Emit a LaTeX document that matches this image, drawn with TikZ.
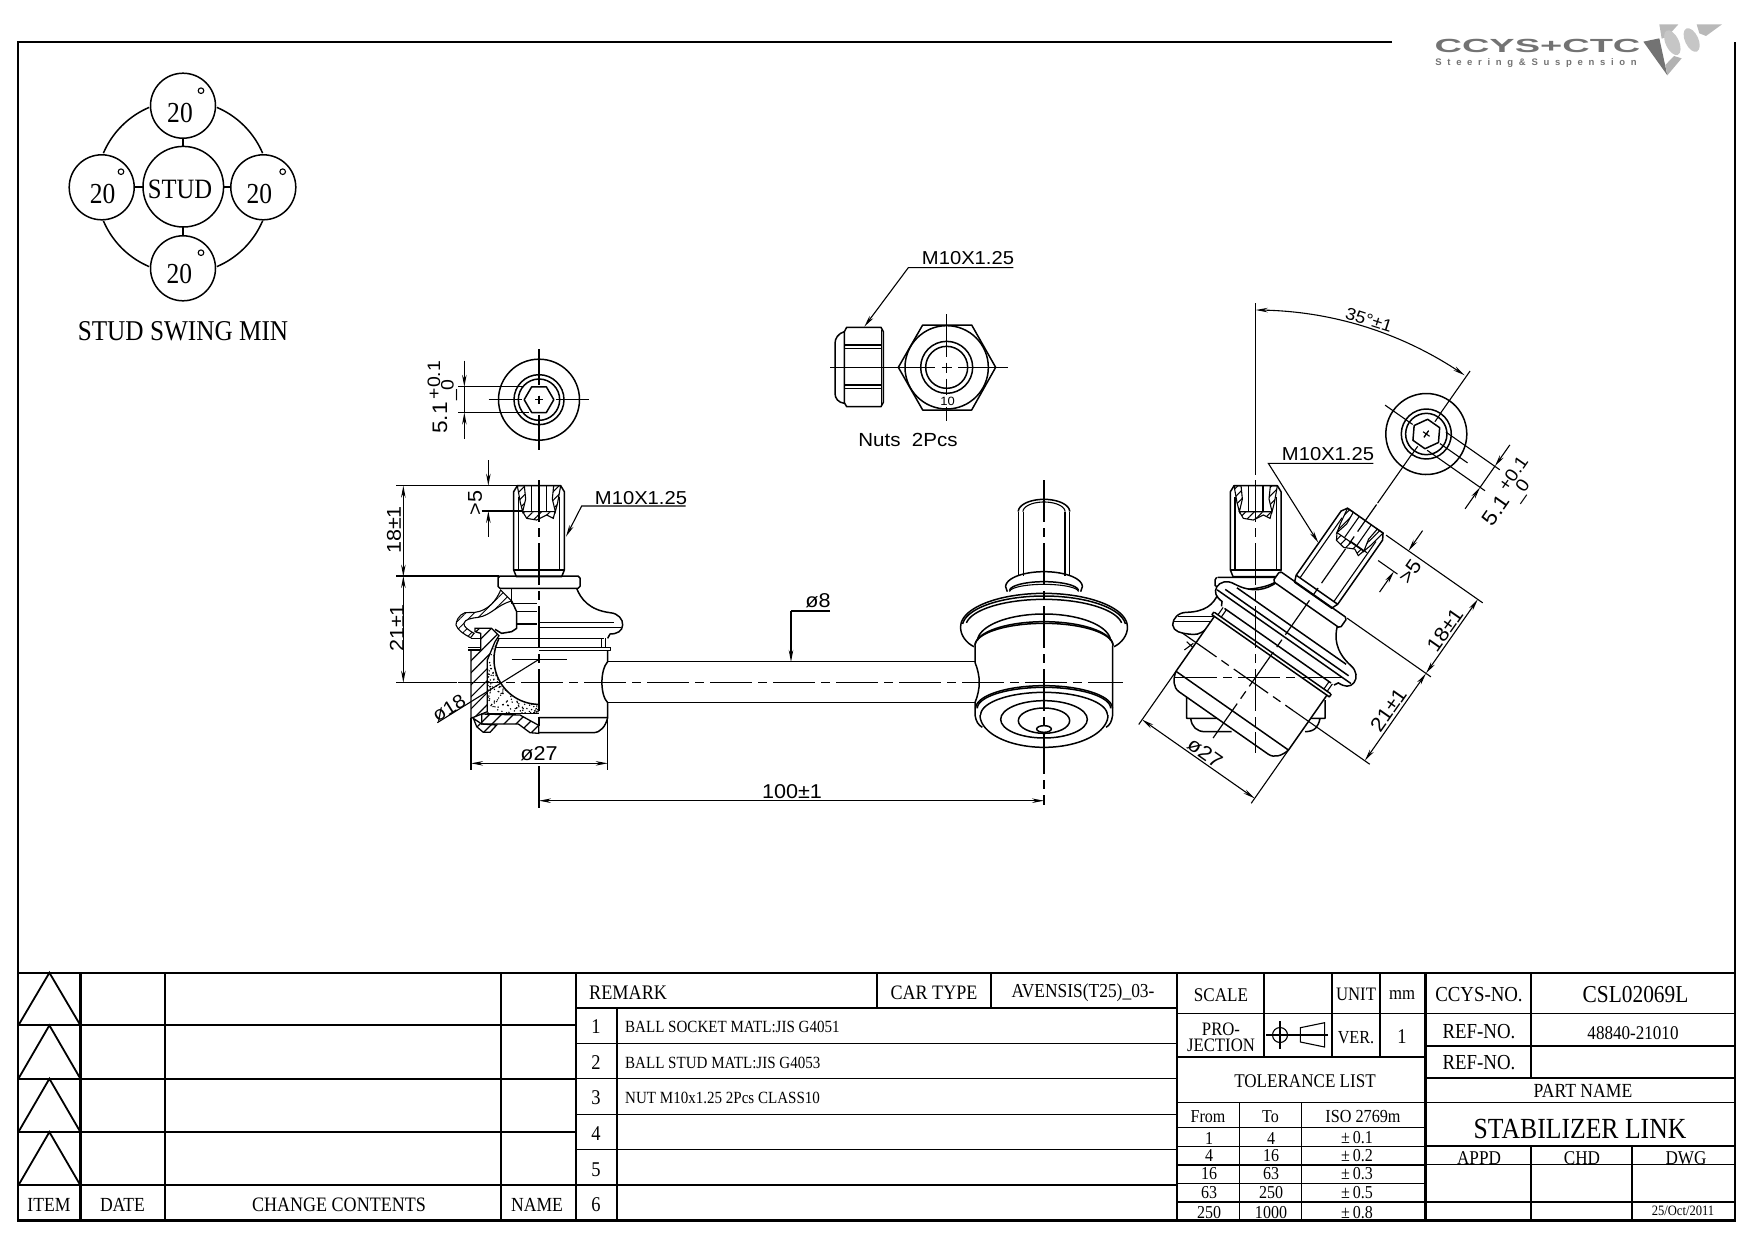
\documentclass[tikz,border=0pt]{standalone}
\usepackage{fontspec}
\setmainfont{Liberation Serif}
\newfontfamily\rs[FakeStretch=0.88]{Liberation Serif}
\newfontfamily\ds[FakeStretch=1.08]{Liberation Sans}
\newfontfamily\lgo[FakeStretch=2.0]{Liberation Sans}
\newfontfamily\lgs[LetterSpace=60]{Liberation Sans}
\usetikzlibrary{arrows.meta,patterns.meta}
\definecolor{lga}{gray}{0.45}
\newcount\lblc
\newcommand\tx[4]{\global\advance\lblc by 1 \node[inner sep=0pt,font=\rs\fontsize{#1}{#1}\selectfont] (t\the\lblc) at (#2,#3) {#4};}
\newcommand\txl[4]{\global\advance\lblc by 1 \node[inner sep=0pt,anchor=west,font=\rs\fontsize{#1}{#1}\selectfont] (t\the\lblc) at (#2,#3) {#4};}
\newcommand\dt[5]{\global\advance\lblc by 1 \node[inner sep=0pt,rotate=#4,font=\ds\fontsize{#1}{#1}\selectfont] (t\the\lblc) at (#2,#3) {#5};}
\newcommand\earc[6]{plot[domain=#5:#6,samples=60] ({#1+#3*cos(\x)},{#2+#4*sin(\x)})}
\tikzset{
 ln/.style={line width=1.5pt,line join=round},
 thn/.style={line width=1.1pt},
 dm/.style={line width=1.1pt},
 cl/.style={line width=1.2pt,dash pattern=on 42pt off 6pt on 9pt off 6pt},
 arr/.style={-{Stealth[length=12pt,width=4.5pt]}},
 arrb/.style={{Stealth[length=12pt,width=4.5pt]}-{Stealth[length=12pt,width=4.5pt]}},
 hat/.style={draw,line width=1.1pt,pattern={Lines[angle=45,distance=6pt,line width=1pt]}},
 hatw/.style={draw,line width=1.3pt,pattern={Lines[angle=45,distance=8.5pt,line width=1.2pt]}},
 tb/.style={line width=2.2pt},
 ts/.style={line width=1.4pt},
 z/.style 2 args={shift={(#1,#2)},x=.33333pt,y=-.33333pt},
 tilt/.style={x={(.27305pt,-.1912pt)},y={(-.1912pt,-.27305pt)}},
 tiltm/.style={x={(-.27305pt,.1912pt)},y={(-.1912pt,-.27305pt)}}
}
\newcommand\studlocal{
 \draw[ln,fill=white] (-65,-591) -- (65,-591) -- (76,-573) -- (76,-338) -- (68,-318) -- (-68,-318) -- (-76,-338) -- (-76,-573) -- cycle;
 \draw[ln] (-76,-338) -- (76,-338);
 \draw[thn] (-62,-558) -- (-62,-338) (62,-558) -- (62,-338);
 \draw[thn] (-22,-591) -- (-22,-513) (22,-591) -- (22,-513);
 \draw[hat] (-65,-591) -- (-44,-591) -- (-40,-551) -- (-49,-513) -- (-56,-540) -- cycle;
 \draw[hat] (65,-591) -- (44,-591) -- (40,-551) -- (49,-513) -- (56,-540) -- cycle;
 \draw[hat] (-49,-513) -- (48,-513) -- (43,-493) -- (23,-503) -- (-7,-488) -- (-37,-493) -- cycle;
}
\newcommand\collarhalf{
 \draw[ln] (0,-320) -- (117,-320) -- (123,-314) -- (123,-289) -- (117,-283) -- (0,-283);
}
\newcommand\bodyhalf{
 \draw[ln] (113,-283) .. controls (125,-252) and (150,-218) .. (213,-210) .. controls (238,-208) and (252,-190) .. (251,-173) .. controls (250,-155) and (235,-146) .. (213,-146) -- (206,-133);
 \draw[ln] (0,-181) -- (226,-181) (0,-166) -- (245,-166) (0,-133) -- (195,-133) (0,-106) -- (213,-106) (0,-96) -- (215,-96) -- (215,-106);
 \draw[thn] (188,-133) -- (188,-106) (200,-133) -- (200,-106);
 \draw[ln] (0,150) -- (163,150) .. controls (185,150) and (200,130) .. (206,105);
}
\newcommand\capview{
 \draw[ln] (0,0) circle[radius=121.5];
 \draw[ln] (0,0) circle[radius=75];
 \draw[ln] (0,0) circle[radius=62];
 \draw[ln] (-44.5,0) -- (-22,-38.5) -- (22,-38.5) -- (44.5,0) -- (22,38.5) -- (-22,38.5) -- cycle;
 \draw[thn] (-151,0) -- (-50,0) (50,0) -- (151,0) (-12,0) -- (12,0) (0,-12) -- (0,12);
}
\newcommand\capdims[1]{
 \draw[dm] (#1*242,-38.5) -- (#1*45,-38.5) (#1*242,38.5) -- (#1*30,38.5) (#1*224,-38.5) -- (#1*224,38.5);
 \draw[dm,arr] (#1*224,-117) -- (#1*224,-38.5);
 \draw[dm,arr] (#1*224,117) -- (#1*224,38.5);
}
\begin{document}
\begin{tikzpicture}[x=1pt,y=-1pt]
\useasboundingbox (0,0) rectangle (1754,1240);
% frame
\draw[line width=2.6pt] (1392,42) -- (18,42) -- (18,1220.5) -- (1735,1220.5) -- (1735,42);
% swing diagram
\foreach \n/\cx/\cy in {a/183/105.7,b/101.7/187.3,c/263.3/187.3,d/183/268.3}{
 \draw[ln] (\cx,\cy) circle[radius=32.5];
}
\draw[ln] (183.3,186.7) circle[radius=40.3];
\draw[ln] (183,138.2) -- (183,146.4) (134.2,187) -- (143,187) (223.6,187) -- (230.8,187) (183,227) -- (183,235.8);
\draw[ln] \earc{183}{187}{86.5}{86.5}{-67}{-23};
\draw[ln] \earc{183}{187}{86.5}{86.5}{-157}{-113};
\draw[ln] \earc{183}{187}{86.5}{86.5}{23}{67};
\draw[ln] \earc{183}{187}{86.5}{86.5}{113}{157};
\foreach \cx/\cy in {201/90.7,121/171.7,282.7/171.7,201/252.7}{\draw[thn] (\cx,\cy) circle[radius=2.8];}
\tx{29}{180}{113}{20}
\tx{29}{102.7}{193.5}{20}
\tx{29}{259.3}{193.5}{20}
\tx{29}{179.3}{274}{20}
\tx{28}{180}{189.5}{STUD}
\tx{28.7}{183}{331.5}{STUD SWING MIN}
% logo
\begin{scope}[z={1380}{0}]
 \fill[gray!55] (838,73) -- (895,73) -- (862,110) -- (845,116) -- cycle;
 \fill[gray!55] (950,73) -- (1026,73) -- (978,108) -- (958,100) -- cycle;
 \fill[gray!45,rotate around={25:(877,128)}] (877,128) ellipse[x radius=20,y radius=40];
 \fill[gray!45,rotate around={25:(935,120)}] (935,120) ellipse[x radius=20,y radius=38];
 \fill[lga] (790,125) -- (838,115) -- (862,226) -- cycle;
 \fill[gray!60] (862,226) -- (905,175) -- (882,168) -- (856,195) -- cycle;
\end{scope}
\global\advance\lblc by 1 \node[inner sep=0pt,text=lga,font=\lgo\bfseries\fontsize{19}{19}\selectfont] (t\the\lblc) at (1537.5,46) {CCYS+CTC};
\global\advance\lblc by 1 \node[inner sep=0pt,text=lga,font=\lgs\bfseries\fontsize{9.5}{9.5}\selectfont] (t\the\lblc) at (1536,63.5) {Steering\&Suspension};
% left end view
\begin{scope}[z={539}{399.67}]
 \capview
 \capdims{-1}
 \draw[thn] (0,-152) -- (0,-45) (0,45) -- (0,152) (0,-12) -- (0,12);
\end{scope}
\dt{21}{440}{418}{90}{5.1}
\dt{18}{434}{380}{90}{+0.1}
\dt{18}{449}{390}{90}{\_0}
% left view right half
\begin{scope}[z={539}{682.67}]
 \studlocal
 \collarhalf
 \bodyhalf
 \begin{scope}[xscale=-1]\collarhalf\end{scope}
 \draw[ln] (206,-96) -- (206,-63) .. controls (183,-38) and (183,37) .. (206,60) -- (206,105) -- (0,105);
\end{scope}
% left view section
\begin{scope}[z={380}{570}]
 \draw[ln] (395,55) -- (395,100) -- (470,100) (410,125) -- (470,125) (410,162) -- (470,162);
 \draw[hat] (362,60) .. controls (350,90) and (325,122) .. (285,127) -- (255,128) .. controls (235,135) and (228,155) .. (228,165) .. controls (232,180) and (255,195) .. (272,203) -- (282,190) .. controls (265,180) and (250,170) .. (252,160) .. controls (255,148) and (270,145) .. (295,142) .. controls (335,135) and (350,105) .. (395,93) -- cycle;
 \draw[ln] (395,93) -- (410,125) -- (410,175) -- (395,185) -- (365,190) -- (345,178);
 \draw[ln] (350,205) -- (477,205) (345,232) -- (477,232);
 \draw[thn] (272,205) -- (300,205) (265,240) -- (300,240) (265,232) -- (300,232);
 \begin{scope}
  \clip \earc{477}{268}{135}{135}{206.7}{90} -- (477,430) -- (322,430) -- (322,270) -- cycle;
  \pgfmathsetseed{11}
  \foreach \i in {1,...,420}{\fill ({322+155*rnd},{205+225*rnd}) circle[radius=2.4];}
 \end{scope}
 \draw[ln] \earc{477}{268}{135}{135}{206.7}{90};
 \draw[hatw] (273,240) -- (302,240) -- (302,190) -- (285,185) -- (285,175) -- (335,175) -- (357,197) -- (345,215) -- (322,270) -- (322,425) -- (273,445) -- cycle;
 \draw[ln] (322,430) -- (477,430);
 \draw[hatw] (305,432) -- (420,435) -- (476,466) -- (476,490) -- (450,488) -- (415,462) -- (305,462) -- cycle;
 \draw[hatw] (280,445) -- (305,462) -- (350,465) -- (330,487) -- (310,487) -- (290,470) -- cycle;
 \draw[ln] (395,268) -- (560,268);
 \draw[dm] (172,458) -- (477,268);
 % rod left
 \draw[ln] (683,275) -- (1785,275) (683,398) -- (1785,398);
 % phi 27
 \draw[dm] (273,445) -- (273,600) (683,450) -- (683,600);
 \draw[dm,arrb] (273,580) -- (683,580);
 % dims
 \draw[dm] (48,18) -- (357,18) (48,338) -- (232,338);
 \draw[dm,arrb] (70,18) -- (70,338);
\end{scope}
\dt{20}{397}{628}{90}{21±1}
\dt{19}{449}{708}{32}{ø18}
\dt{20}{539}{754}{0}{ø27}
\begin{scope}[z={380}{340}]
 \draw[dm] (48,437) -- (410,437) (48,710) -- (360,710) (305,513) -- (425,513);
 \draw[dm,arrb] (70,437) -- (70,710);
 \draw[dm,arr] (325,360) -- (325,437);
 \draw[dm,arr] (325,590) -- (325,513);
 \draw[dm,arr] (917,498) -- (605,498) -- (558,590);
\end{scope}
\dt{20}{394}{530}{90}{18±1}
\dt{20}{475}{503}{90}{>5}
\dt{18.7}{641}{498}{0}{M10X1.25}
% axes left view
\draw[cl] (539,480) -- (539,732);
\draw[dm] (539,766) -- (539,808);
\draw[cl] (458,682.7) -- (1123,682.7);
% 100 dim
\draw[dm,arrb] (539,800.7) -- (1044,800.7);
\dt{20}{792}{792}{0}{100±1}
% phi 8
\draw[dm] (830,611) -- (791,611);
\draw[dm,arr] (791,611) -- (791,662);
\dt{20}{818}{601}{0}{ø8}
% nuts
\begin{scope}[z={800}{230}]
 \draw[ln] (140,292) -- (243,292) -- (250,305) -- (250,517) -- (243,530) -- (140,530) -- (133,518) -- (133,305) -- cycle;
 \draw[ln] (133,305) .. controls (115,310) and (105,325) .. (105,340) -- (105,490) .. controls (105,505) and (115,518) .. (133,520);
 \draw[ln] (135,345) -- (245,345) (135,355) -- (245,355) (135,465) -- (245,465) (135,475) -- (245,475);
 \draw[thn] (244,300) -- (244,525);
 \draw[ln] (295,412) -- (368,285) -- (515,285) -- (587,412) -- (515,540) -- (368,540) -- cycle;
 \draw[ln] (440,412) circle[radius=125];
 \draw[ln] (440,412) circle[radius=78];
 \draw[ln] (440,412) circle[radius=63];
 \draw[thn] (90,412) -- (405,412) (425,412) -- (455,412) (475,412) -- (625,412);
 \draw[thn] (440,252) -- (440,380) (440,398) -- (440,428) (440,446) -- (440,495) (440,530) -- (440,572);
 \draw[dm,arr] (640,113) -- (325,113) -- (193,290);
\end{scope}
\dt{18.7}{968}{258}{0}{M10X1.25}
\dt{12}{947.5}{401}{0}{10}
\dt{19}{908}{440}{0}{Nuts\ \ 2Pcs}
% middle view
\begin{scope}[z={950}{470}]
 \draw[ln] (205,318) -- (205,125) (358,318) -- (358,125);
 \draw[thn] (220,318) -- (220,125) (345,318) -- (345,125);
 \draw[ln] \earc{282}{125}{77}{37}{180}{360};
 \draw[thn] \earc{282}{125}{63}{29}{180}{360};
 \draw[ln] (172,365) -- (167,350) \earc{282}{350}{115}{45}{180}{360} -- (392,365);
 \draw[ln] \earc{282}{362}{103}{27}{180}{360};
 \draw[thn] \earc{282}{365}{103}{22}{180}{360};
 \draw[ln] (72,530) .. controls (50,520) and (30,495) .. (32,470) \earc{282}{470}{250}{100}{180}{360} .. controls (534,495) and (514,520) .. (492,530);
 \draw[ln] \earc{282}{470}{245}{92}{185}{355};
 \draw[ln] \earc{282}{470}{235}{82}{188}{352};
 \draw[ln] \earc{282}{515}{200}{83}{182}{358};
 \draw[ln] \earc{282}{527}{207}{72}{180}{360};
 \draw[ln] \earc{282}{527}{207}{67}{180}{360};
 \draw[ln] (75,527) -- (75,577) .. controls (92,620) and (92,655) .. (75,698) -- (75,735) .. controls (78,755) and (85,765) .. (97,772);
 \draw[ln] (488,527) -- (488,735) .. controls (485,755) and (480,765) .. (468,772);
 \draw[ln] \earc{282}{715}{205}{68}{180}{360};
 \draw[ln] \earc{282}{715}{200}{63}{180}{360};
 \draw[ln] \earc{282}{735}{190}{68}{180}{360};
 \draw[ln] \earc{282}{735}{192}{97}{0}{180};
 \draw[ln] (282,748) ellipse[x radius=130,y radius=56];
 \draw[ln] (282,752) ellipse[x radius=77,y radius=38];
 \draw[ln] (282,777) ellipse[x radius=22,y radius=10];
\end{scope}
\draw[cl] (1044,480) -- (1044,805);
% right view: upright stud and hidden parts
\begin{scope}[z={1255.7}{682.7}]
 \studlocal
\end{scope}
\begin{scope}[z={1150}{500}]
 \draw[ln] (203,232) -- (385,232) (200,232) -- (195,240) -- (195,256) -- (203,262) .. controls (250,275) and (340,270) .. (378,245);
 \draw[ln] (205,280) .. controls (190,315) and (165,335) .. (110,337) .. controls (85,337) and (68,355) .. (68,375) .. controls (70,395) and (95,400) .. (115,402) .. controls (135,405) and (150,405) .. (170,385);
 \draw[ln] (85,350) -- (190,350) (72,365) -- (185,365);
 \draw[thn] (103,450) -- (130,430) (110,425) -- (135,448);
 \draw[ln] (110,590) -- (110,655) -- (212,655) (122,655) .. controls (125,680) and (140,695) .. (165,695) -- (245,695);
 \draw[ln] (525,600) -- (525,655) -- (470,655) (510,655) .. controls (505,680) and (495,695) .. (465,695);
\end{scope}
% tilted body
\begin{scope}[shift={(1252.3,682)},tilt]
 \fill[white] (-123,-320) -- (123,-320) -- (123,-283) -- (113,-283) .. controls (125,-252) and (150,-218) .. (213,-210) .. controls (238,-208) and (252,-190) .. (251,-173) .. controls (250,-155) and (235,-146) .. (213,-146) -- (206,-133) -- (206,105) .. controls (200,130) and (185,150) .. (163,150) -- (-163,150) .. controls (-185,150) and (-200,130) .. (-206,105) -- (-206,-133) -- (-213,-146) .. controls (-235,-146) and (-250,-155) .. (-251,-173) .. controls (-252,-190) and (-238,-208) .. (-213,-210) .. controls (-150,-218) and (-125,-252) .. (-113,-283) -- (-123,-283) -- cycle;
 \studlocal
 \collarhalf \bodyhalf
 \draw[ln] (-206,-96) -- (-206,105) -- (206,105) -- (206,-96);
 \draw[ln] (-200,-205) -- (200,-205);
 % tilted dims
 \draw[dm] (76,-591) -- (430,-591) (123,-320) -- (430,-320) (100,-515) -- (171,-515) (0,-515) -- (60,-515);
 \draw[dm] (150,0) -- (430,0);
 \draw[dm,arrb] (412,0) -- (412,-320);
 \draw[dm,arrb] (412,-320) -- (412,-591);
 \draw[dm,arr] (158,-440) -- (158,-515);
 \draw[dm,arr] (158,-665) -- (158,-591);
 \draw[dm] (-206,105) -- (-206,300) (206,105) -- (206,300);
 \draw[dm,arrb] (-206,282) -- (206,282);
 \draw[cl] (-257,0) -- (150,0);
 \draw[cl] (0,205) -- (0,-650);
 \draw[dm] (0,-655) -- (0,-835) (0,-985) -- (0,-1139);
\end{scope}
\begin{scope}[shift={(1252.3,682)},tiltm]
 \collarhalf \bodyhalf
\end{scope}
\begin{scope}[shift={(1426.3,434)},tilt]
 \capview
 \draw[thn] (0,-75) -- (0,-45) (0,45) -- (0,75) (0,-12) -- (0,12);
 \capdims{1}
\end{scope}
\dt{20}{1445}{630}{55}{18±1}
\dt{20}{1388.3}{710}{55}{21±1}
\dt{20}{1410}{571.7}{55}{>5}
\dt{20}{1205}{753}{-35}{ø27}
\dt{21}{1496}{510}{55}{5.1}
\dt{18}{1513}{473.5}{55}{+0.1}
\dt{18}{1520.7}{491}{55}{\_0}
% 35 degree arc
\draw[dm,arrb] plot[domain=-90:-55.3,samples=40] ({1255.7+367*cos(\x)},{677+367*sin(\x)});
\dt{17}{1369}{320}{-17.5}{35°±1}
\draw[ln] (1255.7,303) -- (1255.7,475);
\draw[cl] (1255.7,480) -- (1255.7,753);
\draw[cl] (1175,677.3) -- (1345,677.3);
% M10 leader right
\begin{scope}[z={1150}{290}]
 \draw[dm,arr] (670,520) -- (355,520) -- (505,758);
\end{scope}
\dt{18.7}{1328}{454}{0}{M10X1.25}
\begin{scope}[shift={(0,1)}]
% revision table
\draw[tb] (18.4,971.7) -- (1735,971.7);
\foreach \y in {1024.3,1077.7,1131,1184.3}{\draw[tb] (18.4,\y) -- (576,\y);}
\foreach \x in {80.4,164.6,501.3,576}{\draw[tb] (\x,971.7) -- (\x,1219.5);}
\foreach \yt/\yb in {971.7/1024.3,1024.3/1077.7,1077.7/1131,1131/1184.3}{\draw[line width=1.8pt,line join=miter] (18.4,\yb) -- (49.4,\yt) -- (80.4,\yb);}
\tx{20}{49}{1204}{ITEM}
\tx{20}{122.5}{1204}{DATE}
\tx{20.5}{339}{1204}{CHANGE CONTENTS}
\tx{20}{537}{1204}{NAME}
% remark table
\draw[tb] (576,1006.7) -- (1177,1006.7);
\foreach \y in {1042.3,1077.7,1113.3,1148.7,1184}{\draw[ts] (576,\y) -- (1177,\y);}
\draw[tb] (616.7,1006.7) -- (616.7,1219.5);
\draw[tb] (876.8,971.7) -- (876.8,1006.7);
\draw[ts] (991,971.7) -- (991,1006.7);
\draw[tb] (1177,971.7) -- (1177,1219.5);
\txl{20.7}{589}{991.7}{REMARK}
\tx{20.5}{934}{992}{CAR TYPE}
\tx{19.8}{1083}{992}{AVENSIS(T25)\_03-}
\foreach \n/\y in {1/1026,2/1062,3/1097,4/1133,5/1169,6/1204}{\node[inner sep=0pt,font=\rs\fontsize{21}{21}\selectfont] (r\n) at (596,\y) {\n};}
\txl{17.1}{625}{1026}{BALL SOCKET MATL:JIS G4051}
\txl{17.1}{625}{1061.5}{BALL STUD MATL:JIS G4053}
\txl{17.1}{625}{1097}{NUT M10x1.25 2Pcs CLASS10}
% scale / tolerance
\draw[ts] (1264,971.7) -- (1264,1055.7);
\draw[tb] (1332,971.7) -- (1332,1055.7);
\draw[ts] (1380,971.7) -- (1380,1055.7);
\draw[tb] (1425.5,971.7) -- (1425.5,1219.5);
\draw[ts] (1177,1012.7) -- (1425.5,1012.7);
\draw[tb] (1177,1055.7) -- (1425.5,1055.7);
\draw[ts] (1177,1101.7) -- (1425.5,1101.7);
\foreach \y in {1126.7,1145.3,1164,1182.3,1201}{\draw[ts] (1177,\y) -- (1425.5,\y);}
\draw[ts] (1239.6,1101.7) -- (1239.6,1219.5) (1301.5,1101.7) -- (1301.5,1219.5);
\tx{19.4}{1221}{994}{SCALE}
\tx{19}{1356}{993}{UNIT}
\tx{19}{1402}{994}{mm}
\tx{19}{1221}{1028}{PRO-}
\tx{19}{1221}{1044.5}{JECTION}
\draw[thn] (1266,1034) -- (1328,1034) (1280,1020) -- (1280,1048);
\draw[thn] (1280,1034) circle[radius=7.5];
\draw[thn] (1300.4,1026.7) -- (1324.6,1021.7) -- (1324.6,1046) -- (1300.4,1041) -- cycle;
\tx{18.4}{1356}{1037}{VER.}
\tx{21}{1402}{1036}{1}
\tx{19.4}{1305}{1080}{TOLERANCE LIST}
\tx{18.2}{1208}{1116}{From}
\tx{18.2}{1270.5}{1116}{To}
\tx{18.4}{1363}{1115}{ISO 2769m}
\foreach \a/\b/\c/\y in {1/4/0.1/1137,4/16/0.2/1154.5,16/63/0.3/1173,63/250/0.5/1192,250/1000/0.8/1212}{
 \global\advance\lblc by 1
 \node[inner sep=0pt,font=\rs\fontsize{18.2}{18.2}\selectfont] (ta\the\lblc) at (1209,\y) {\a};
 \node[inner sep=0pt,font=\rs\fontsize{18.2}{18.2}\selectfont] (tb\the\lblc) at (1271,\y) {\b};
 \node[inner sep=0pt,font=\rs\fontsize{18.2}{18.2}\selectfont] (tc\the\lblc) at (1357,\y) {±\,\c};
}
% title block
\foreach \y in {1012.7,1045,1101.7,1163.3,1201}{\draw[ts] (1425.5,\y) -- (1735,\y);}
\draw[tb] (1425.5,1076.7) -- (1735,1076.7);
\draw[tb] (1425.5,1145) -- (1735,1145);
\draw[ts] (1531,971.7) -- (1531,1076.7);
\draw[ts] (1531,1145) -- (1531,1219.5) (1632,1145) -- (1632,1219.5);
\tx{21.4}{1479}{994}{CCYS-NO.}
\tx{24.3}{1635.5}{994}{CSL02069L}
\tx{21.4}{1479}{1031}{REF-NO.}
\tx{19.4}{1633}{1032}{48840-21010}
\tx{21.4}{1479}{1062}{REF-NO.}
\tx{20}{1583}{1090}{PART NAME}
\tx{29.2}{1580}{1128}{STABILIZER LINK}
\tx{19.5}{1479}{1157}{APPD}
\tx{19.5}{1582}{1157}{CHD}
\tx{19.5}{1686}{1157}{DWG}
\tx{14.3}{1683}{1210}{25/Oct/2011}
\end{scope}
\end{tikzpicture}
\end{document}
